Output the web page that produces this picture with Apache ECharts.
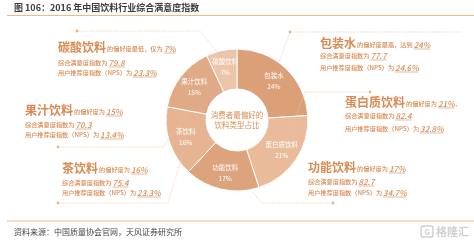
<!DOCTYPE html>
<html>
<head>
<meta charset="utf-8">
<script src="https://cdn.jsdelivr.net/npm/echarts@6/dist/echarts.min.js"></script>
<style>
  html, body { margin: 0; padding: 0; background: #fff; }
  #chart { width: 474px; height: 240px; }
</style>
</head>
<body>
<div id="chart"></div>
<script>
// data (clockwise from 12 o'clock)
const categories = ['包装水', '蛋白质饮料', '功能饮料', '茶饮料', '果汁饮料', '碳酸饮料'];
const shares = [24, 21, 17, 16, 15, 7];
const satisfaction = ['77.7', '82.4', '82.7', '75.4', '70.3', '79.8'];
const nps = ['24.6%', '32.8%', '34.7%', '23.3%', '13.4%', '23.3%'];
const prefPhrases = ['的偏好度最高，达到', '的偏好度为', '的偏好度为', '的偏好度为', '的偏好度为', '的偏好度最低，仅为'];
const prefSuffix = ['', '，', '', '', '', ''];

const titleText = '图 106：2016 年中国饮料行业综合满意度指数';
const centerText = '消费者最偏好的\n饮料类型占比';
const sourceText = '资料来源：中国质量协会官网，天风证券研究所';

// layout of the annotation blocks: [x, y line1, y line2, y line3]
const blockPos = [
  [320, 43, 56, 68],
  [345, 102, 116, 129],
  [308, 167, 182, 193],
  [62, 168, 183, 193],
  [25, 110, 125, 135],
  [58, 47, 63, 73]
];
const leaders = [
  [[462, 32], [290, 32], [279, 62]],
  [[370, 92], [305, 92], [290, 133]],
  [[333, 203], [262, 203], [250, 189]],
  [[58, 203], [168, 203], [183, 153]],
  [[58, 147], [163, 147], [188, 112]],
  [[77, 31], [200, 31], [218, 53]]
];
const leaderDots = [[290, 32], [370, 92], [333, 203], [58, 203], [58, 147], [77, 31]];

const sliceColors = ['#dba078', '#e9bb9b', '#dca37c', '#e6b492', '#e0aa86', '#ebc4a9'];
const accent = '#d98a52';
const FONT = '"Noto Sans CJK SC", "Noto Sans", sans-serif';

const measureCtx = document.createElement('canvas').getContext('2d');
const textWidth = (txt, font) => {
  measureCtx.font = font;
  return measureCtx.measureText(txt).width;
};

const graphics = [];

const addText = (txt, x, y, font, fill, align) => {
  graphics.push({
    type: 'text', x, y, z: 10,
    style: {
      text: txt, font, fill,
      align: align || 'left', verticalAlign: 'middle',
      textAlign: align || 'left', textVerticalAlign: 'middle'
    }
  });
};

const addValue = (txt, x, y) => {
  const font = 'italic 500 8px ' + FONT;
  addText(txt, x, y - 0.5, font, accent);
  const w = textWidth(txt, font);
  graphics.push({
    type: 'line', z: 10,
    shape: { x1: x, y1: y + 4, x2: x + w, y2: y + 4 },
    style: { stroke: accent, lineWidth: 0.6 }
  });
  return w;
};

const bigFont = 'bold 12px ' + FONT;
const smallFont = '500 6.2px ' + FONT;

categories.forEach((name, i) => {
  const [x, y1, y2, y3] = blockPos[i];
  let cx = x;
  addText(name, cx, y1, bigFont, accent);
  cx += textWidth(name, bigFont) + 1;
  addText(prefPhrases[i], cx, y1 + 2, smallFont, accent);
  cx += textWidth(prefPhrases[i], smallFont) + 1;
  cx += addValue(shares[i] + '%', cx, y1 + 2);
  if (prefSuffix[i]) addText(prefSuffix[i], cx, y1 + 2, smallFont, accent);

  const l2 = '综合满意度指数为';
  addText(l2, x, y2, smallFont, accent);
  addValue(satisfaction[i], x + textWidth(l2, smallFont) + 1, y2);

  const l3 = '用户推荐度指数（NPS）为';
  addText(l3, x, y3, smallFont, accent);
  addValue(nps[i], x + textWidth(l3, smallFont) + 1, y3);

  graphics.push({
    type: 'polyline', z: 5,
    shape: { points: leaders[i] },
    style: { stroke: '#f0c6a4', lineWidth: 0.8, lineDash: [1.2, 1.2], fill: null }
  });
  graphics.push({
    type: 'circle', z: 6,
    shape: { cx: leaderDots[i][0], cy: leaderDots[i][1], r: 1.4 },
    style: { fill: '#e9b48c' }
  });
});

// header / footer
addText(titleText, 14, 8, 'bold 9px ' + FONT, '#3c3c3c');
graphics.push({ type: 'line', shape: { x1: 7, y1: 15.5, x2: 474, y2: 15.5 }, style: { stroke: '#f6b888', lineWidth: 1.2 } });
graphics.push({ type: 'line', shape: { x1: 7, y1: 221, x2: 474, y2: 221 }, style: { stroke: '#f6b888', lineWidth: 1.2 } });
addText(sourceText, 14, 232, '8px ' + FONT, '#444');
graphics.push({ type: 'rect', shape: { x: 421, y: 226, width: 12, height: 11, r: 2 }, style: { fill: null, stroke: '#cfcfcf', lineWidth: 1.4 } });
addText('G', 427, 231.5, 'bold 8px ' + FONT, '#cfcfcf', 'center');
addText('格隆汇', 436, 231.5, 'bold 11px ' + FONT, '#d0d0d0');

// centre caption
graphics.push({
  type: 'text', x: 237, y: 120, z: 10,
  style: {
    text: centerText, font: '7.5px ' + FONT, fill: accent, lineHeight: 10,
    align: 'center', verticalAlign: 'middle', textAlign: 'center', textVerticalAlign: 'middle'
  }
});

const chart = echarts.init(document.getElementById('chart'), null, { renderer: 'canvas' });
chart.setOption({
  animation: false,
  graphic: graphics,
  series: [{
    type: 'pie',
    center: [237, 120],
    radius: [31, 71],
    startAngle: 90,
    clockwise: true,
    avoidLabelOverlap: false,
    itemStyle: { borderColor: '#fff', borderWidth: 1 },
    label: {
      position: 'inside',
      formatter: '{b}\n{c}%',
      color: '#fff',
      fontSize: 6.5,
      lineHeight: 11,
      fontFamily: FONT
    },
    labelLine: { show: false },
    data: categories.map((name, i) => ({
      name, value: shares[i], itemStyle: { color: sliceColors[i] }
    }))
  }]
});
</script>
</body>
</html>
